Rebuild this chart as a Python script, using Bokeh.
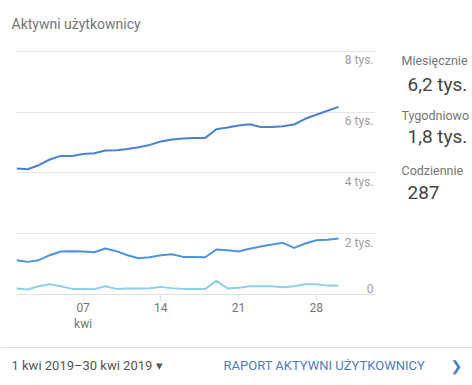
from bokeh.plotting import figure
from bokeh.models import ColumnDataSource, Label, FixedTicker, Range1d, Span
from bokeh.layouts import column, row
from bokeh.core.properties import value
from bokeh.embed import file_html
from bokeh.resources import INLINE

days = list(range(1, 31))
monthly = [4145, 4122, 4253, 4441, 4559, 4559, 4625, 4648, 4737, 4747,
           4789, 4845, 4921, 5033, 5099, 5132, 5151, 5151, 5438, 5493,
           5559, 5602, 5513, 5513, 5536, 5592, 5780, 5914, 6046, 6171]
weekly = [1128, 1073, 1128, 1293, 1414, 1425, 1414, 1392, 1513, 1425,
          1293, 1194, 1227, 1293, 1326, 1237, 1237, 1227, 1480, 1458,
          1414, 1502, 1579, 1645, 1699, 1535, 1678, 1787, 1798, 1842]
daily = [196, 163, 273, 339, 273, 185, 185, 174, 273, 185,
         196, 196, 207, 251, 207, 185, 185, 185, 448, 196,
         218, 273, 273, 273, 240, 273, 339, 339, 292, 287]

x_ticks = [7, 14, 21, 28]
x_tick_labels = ["07\nkwi", "14", "21", "28"]
y_ticks = [0, 2000, 4000, 6000, 8000]
y_tick_labels = ["0", "2 tys.", "4 tys.", "6 tys.", "8 tys."]

title_text = "Aktywni użytkownicy"
summary_labels = ["Miesięcznie", "Tygodniowo", "Codziennie"]
summary_values = ["6,2 tys.", "1,8 tys.", "287"]
date_text = "1 kwi 2019\u201330 kwi 2019 \u25BE"
link_text = "RAPORT AKTYWNI UŻYTKOWNICY"

W, H = 472, 385
FONT = "Roboto"
HEAD_H = 45          # header strip height
MID_H = 300          # chart strip height (page y 45..345)
FOOT_H = H - HEAD_H - MID_H
FL, FR, FB = 16, 375, 294   # chart frame left/right/bottom (page px)


def blank(w, h, x0, y_top):
    """Figure whose frame fills it; data coords == page pixels (y up)."""
    f = figure(width=w, height=h, output_backend="svg", toolbar_location=None,
               x_range=Range1d(x0, x0 + w), y_range=Range1d(-(y_top + h), -y_top),
               min_border=0)
    f.axis.visible = False
    f.grid.visible = False
    f.outline_line_color = None
    return f


def lab(f, txt, px, py, size, color, font=FONT, align="left"):
    f.add_layout(Label(x=px, y=-py, text=txt, text_align=align, text_baseline="middle",
                       text_font=font, text_font_size=size, text_color=color))


# header
head = blank(W, HEAD_H, 0, 0)
lab(head, title_text, 11, 23, "14px", "#757575")

# chart
X0 = 1
X1 = 1 + (FR - FL) / 11.104
Y0 = 0
Y1 = (FB - HEAD_H) / 0.0304

p = figure(width=FR, height=MID_H, output_backend="svg", toolbar_location=None,
           x_range=Range1d(X0, X1), y_range=Range1d(Y0, Y1),
           min_border_left=FL, min_border_right=0, min_border_top=0,
           min_border_bottom=HEAD_H + MID_H - FB)
p.outline_line_color = None
p.yaxis.visible = False
p.xgrid.grid_line_color = None
p.ygrid.ticker = FixedTicker(ticks=y_ticks[1:])
p.ygrid.grid_line_color = "#e6e6e6"
p.ygrid.grid_line_width = 1

ax = p.xaxis[0]
ax.ticker = FixedTicker(ticks=x_ticks)
ax.major_label_overrides = {t: l for t, l in zip(x_ticks, x_tick_labels)}
ax.axis_line_color = "#e0e0e0"
ax.major_tick_line_color = "#e0e0e0"
ax.major_tick_in = 0
ax.major_tick_out = 6
ax.minor_tick_line_color = None
ax.major_label_standoff = 0
ax.major_label_text_font = FONT
ax.major_label_text_font_size = "12px"
ax.major_label_text_color = "#757575"

src = ColumnDataSource(dict(x=days, m=monthly, w=weekly, d=daily))
p.line("x", "d", source=src, line_color="#8fcfe9", line_width=2)
p.line("x", "w", source=src, line_color="#4a95dc", line_width=2)
p.line("x", "m", source=src, line_color="#4a82d0", line_width=2)

tx = X0 + (373 - FL) * (X1 - X0) / (FR - FL)
ysrc_hi = ColumnDataSource(dict(x=[tx] * 4, y=y_ticks[1:], t=y_tick_labels[1:]))
p.text("x", "y", text="t", source=ysrc_hi, text_align="right", text_baseline="top",
       y_offset=2, text_font=value(FONT), text_font_size="12px", text_color="#9e9e9e")
ysrc_lo = ColumnDataSource(dict(x=[tx], y=y_ticks[:1], t=y_tick_labels[:1]))
p.text("x", "y", text="t", source=ysrc_lo, text_align="right", text_baseline="bottom",
       y_offset=-2, text_font=value(FONT), text_font_size="12px", text_color="#9e9e9e")

# right summary panel
side = blank(W - FR, MID_H, FR, HEAD_H)
ys_l = [63, 129, 195]
ys_v = [92, 155, 222]
for t, v, yl, yv in zip(summary_labels, summary_values, ys_l, ys_v):
    lab(side, t, 401, yl, "12.5px", "#757575")
    lab(side, v, 407, yv, "19px", "#444444")

# footer
foot = blank(W, FOOT_H, 0, HEAD_H + MID_H)
foot.add_layout(Span(location=-347, dimension="width", line_color="#e0e0e0", line_width=1))
lab(foot, date_text, 11, 365, "13px", "#555555")
lab(foot, link_text, 223, 365, "13px", "#4f7cbb")
lab(foot, "\u276F", 450, 365, "14px", "#4f7cbb", font="DejaVu Sans")

layout = column(head, row(p, side, spacing=0), foot, spacing=0)
open("out.html", "w").write(file_html(layout, INLINE))
